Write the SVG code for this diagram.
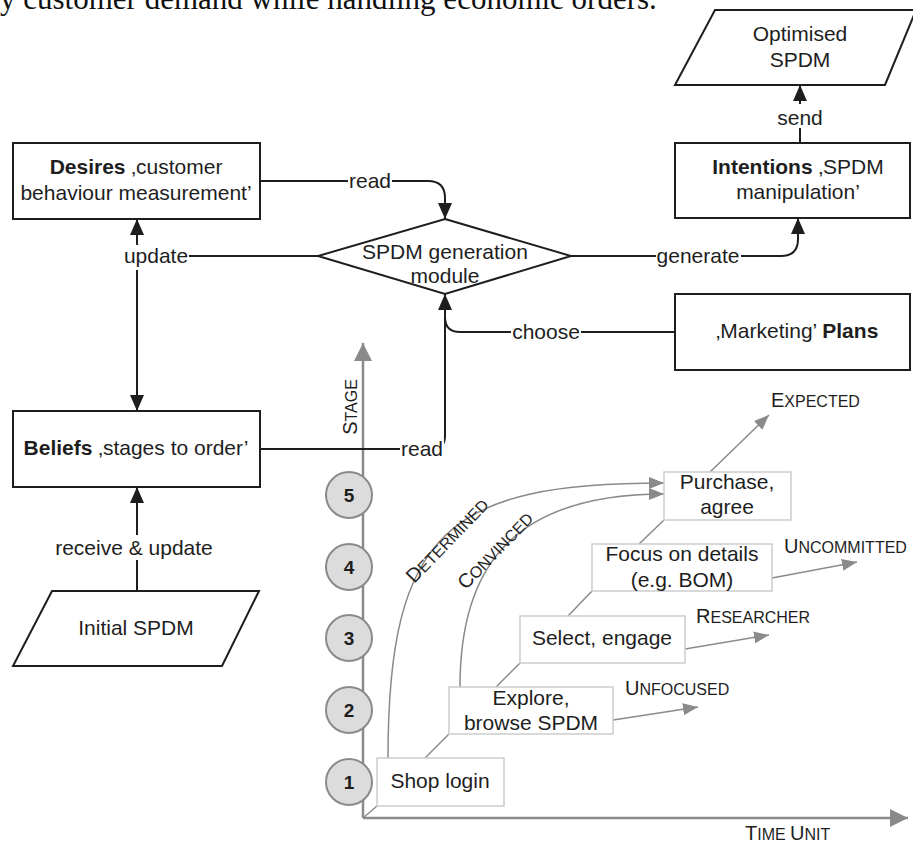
<svg xmlns="http://www.w3.org/2000/svg" width="913" height="843" viewBox="0 0 913 843">
<style>
.t{font-family:"Liberation Sans",Arial,sans-serif;font-size:21px;fill:#1e1e1e}
.c{text-anchor:middle}
.b{font-weight:bold}
.node{fill:#fff;stroke:#1e1e1e;stroke-width:2}
.con{fill:none;stroke:#1e1e1e;stroke-width:2}
.bg{fill:#fff}
.gbox{fill:#fff;stroke:#cdcdcd;stroke-width:1.5}
.gl{fill:none;stroke:#8a8a8a;stroke-width:1.5}
.ax{fill:none;stroke:#8a8a8a;stroke-width:2.5}
.circ{fill:#dcdcdc;stroke:#8a8a8a;stroke-width:2}
.sc{font-size:20px}
.sm{font-size:16px}
.num{font-family:"Liberation Sans",Arial,sans-serif;font-size:19px;font-weight:bold;fill:#1e1e1e;text-anchor:middle}
</style>
<defs>
<marker id="ab" markerUnits="userSpaceOnUse" markerWidth="16" markerHeight="14" refX="16" refY="7" orient="auto"><path d="M0,0 L16,7 L0,14 z" fill="#1e1e1e"/></marker>
<marker id="ag" markerUnits="userSpaceOnUse" markerWidth="15" markerHeight="12" refX="15" refY="6" orient="auto"><path d="M0,0 L15,6 L0,12 z" fill="#8a8a8a"/></marker>
<marker id="aa" markerUnits="userSpaceOnUse" markerWidth="18" markerHeight="18" refX="18" refY="9" orient="auto"><path d="M0,0 L18,9 L0,18 z" fill="#8a8a8a"/></marker>
</defs>

<text x="0" y="9" style="font-family:'Liberation Serif','Times New Roman',serif;font-size:31px;fill:#111">y customer demand while handling economic orders.</text>

<g id="chart">
  <path class="ax" d="M363,818 V343" marker-end="url(#aa)"/>
  <path class="ax" d="M363,818 H908" marker-end="url(#aa)"/>
  <path class="gl" d="M363,818 L377,806"/>
  <g id="stages">
    <circle class="circ" cx="349" cy="495" r="23"/><text class="num" x="349" y="502">5</text>
    <circle class="circ" cx="349" cy="567" r="23"/><text class="num" x="349" y="574">4</text>
    <circle class="circ" cx="349" cy="638" r="23"/><text class="num" x="349" y="645">3</text>
    <circle class="circ" cx="349" cy="710" r="23"/><text class="num" x="349" y="717">2</text>
    <circle class="circ" cx="349" cy="782" r="23"/><text class="num" x="349" y="789">1</text>
  </g>
  <text class="t c" transform="translate(357,407) rotate(-90)"><tspan class="sc">S</tspan><tspan class="sm">TAGE</tspan></text>
  <text class="t" x="745" y="840"><tspan class="sc">T</tspan><tspan class="sm">IME </tspan><tspan class="sc">U</tspan><tspan class="sm">NIT</tspan></text>

  <g id="chart-links">
    <path class="gl" d="M425,758 L449,734"/>
    <path class="gl" d="M496,687 L520,663"/>
    <path class="gl" d="M568,616 L592,591"/>
    <path class="gl" d="M639,544 L664,520"/>
    <path class="gl" d="M710,472 L769,415" marker-end="url(#ag)"/>
    <path class="gl" d="M613,720 L698,707" marker-end="url(#ag)"/>
    <path class="gl" d="M685,649 L769,635" marker-end="url(#ag)"/>
    <path class="gl" d="M772,578 L857,562" marker-end="url(#ag)"/>
    <path class="gl" d="M388,758 C388,530 450,483 664,483" marker-end="url(#ag)"/>
    <path class="gl" d="M460,687 C460,575 505,494 664,494" marker-end="url(#ag)"/>
  </g>
  <text class="t" transform="translate(452,545) rotate(-46)" text-anchor="middle"><tspan class="sc">D</tspan><tspan class="sm">ETERMINED</tspan></text>
  <text class="t" transform="translate(500,555) rotate(-46)" text-anchor="middle"><tspan class="sc">C</tspan><tspan class="sm">ONVINCED</tspan></text>
  <text class="t" x="771" y="407"><tspan class="sc">E</tspan><tspan class="sm">XPECTED</tspan></text>
  <text class="t" x="784" y="553"><tspan class="sc">U</tspan><tspan class="sm">NCOMMITTED</tspan></text>
  <text class="t" x="696" y="623"><tspan class="sc">R</tspan><tspan class="sm">ESEARCHER</tspan></text>
  <text class="t" x="625" y="695"><tspan class="sc">U</tspan><tspan class="sm">NFOCUSED</tspan></text>

  <g id="shop-login"><rect class="gbox" x="377" y="758" width="127" height="48"/><text class="t c" x="440" y="788">Shop login</text></g>
  <g id="explore"><rect class="gbox" x="449" y="687" width="164" height="47"/><text class="t c" x="531" y="705">Explore,</text><text class="t c" x="531" y="730">browse SPDM</text></g>
  <g id="select"><rect class="gbox" x="520" y="616" width="165" height="47"/><text class="t c" x="602" y="645">Select, engage</text></g>
  <g id="focus"><rect class="gbox" x="592" y="544" width="180" height="47"/><text class="t c" x="682" y="561">Focus on details</text><text class="t c" x="682" y="587">(e.g. BOM)</text></g>
  <g id="purchase"><rect class="gbox" x="664" y="472" width="127" height="48"/><text class="t c" x="727" y="489">Purchase,</text><text class="t c" x="727" y="514">agree</text></g>
</g>

<g id="connectors">
  <path class="con" d="M260,181 H428 Q445,181 445,198 V219" marker-end="url(#ab)"/>
  <path class="con" d="M318,256 H150 Q137,256 137,243 V219" marker-end="url(#ab)"/>
  <path class="con" d="M137,256 V411" marker-end="url(#ab)"/>
  <path class="con" d="M260,449 H432 Q445,449 445,436 V294" marker-end="url(#ab)"/>
  <path class="con" d="M675,332 H460 Q445,332 445,317"/>
  <path class="con" d="M571,256 H781 Q798,256 798,239 V218" marker-end="url(#ab)"/>
  <path class="con" d="M800,143 V85" marker-end="url(#ab)"/>
  <path class="con" d="M137,591 V487" marker-end="url(#ab)"/>
  <g id="labels">
    <rect class="bg" x="348" y="170" width="44" height="22"/><text class="t c" x="370" y="188">read</text>
    <rect class="bg" x="123" y="245" width="66" height="25"/><text class="t c" x="156" y="263">update</text>
    <rect class="bg" x="400" y="438" width="44" height="22"/><text class="t c" x="422" y="456">read</text>
    <rect class="bg" x="511" y="321" width="70" height="24"/><text class="t c" x="546" y="339">choose</text>
    <rect class="bg" x="656" y="245" width="85" height="25"/><text class="t c" x="698" y="263">generate</text>
    <rect class="bg" x="776" y="104" width="48" height="24"/><text class="t c" x="800" y="125">send</text>
    <rect class="bg" x="54" y="535" width="160" height="25"/><text class="t c" x="134" y="555">receive &amp; update</text>
  </g>
</g>

<g id="desires"><rect class="node" x="13" y="143" width="247" height="76"/><text class="t c" x="136" y="174"><tspan class="b">Desires</tspan> ‚customer</text><text class="t c" x="136" y="200">behaviour measurement’</text></g>
<g id="beliefs"><rect class="node" x="13" y="411" width="247" height="76"/><text class="t c" x="136" y="455"><tspan class="b">Beliefs</tspan> ‚stages to order’</text></g>
<g id="spdm-module"><polygon class="node" points="445,219 571,256 445,294 318,256"/><text class="t c" x="445" y="259">SPDM generation</text><text class="t c" x="445" y="283">module</text></g>
<g id="intentions"><rect class="node" x="675" y="143" width="235" height="75"/><text class="t c" x="798" y="174"><tspan class="b">Intentions</tspan> ‚SPDM</text><text class="t c" x="798" y="199">manipulation’</text></g>
<g id="plans"><rect class="node" x="675" y="294" width="235" height="76"/><text class="t c" x="797" y="338">‚Marketing’ <tspan class="b">Plans</tspan></text></g>
<g id="optimised"><polygon class="node" points="715,10 916,10 885,85 675,85"/><text class="t c" x="800" y="41">Optimised</text><text class="t c" x="800" y="67">SPDM</text></g>
<g id="initial"><polygon class="node" points="52,591 259,591 222,666 13,666"/><text class="t c" x="136" y="635">Initial SPDM</text></g>
</svg>
